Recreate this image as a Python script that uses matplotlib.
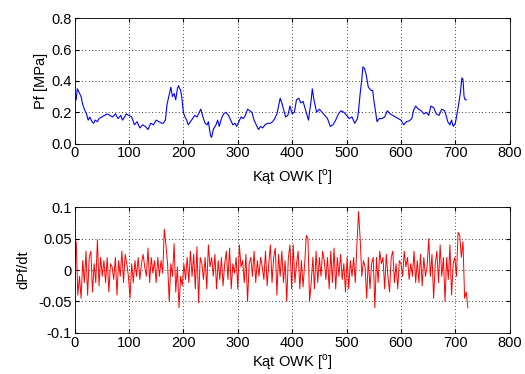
import numpy as np
import matplotlib.pyplot as plt

plt.rcParams['font.family'] = ['Liberation Sans', 'DejaVu Sans']
plt.rcParams['mathtext.fontset'] = 'custom'
plt.rcParams['mathtext.rm'] = 'Liberation Sans'

# cisnienie Pf [MPa]
kat_pf = [0, 3, 5, 8, 12, 15, 18, 22, 25, 28, 32, 35, 38, 42, 45, 50, 55, 60, 65, 70,
          75, 80, 85, 88, 92, 95, 100, 105, 110, 115, 120, 125, 130, 135, 140, 145, 150,
          155, 160, 163, 167, 170, 175, 177, 180, 183, 186, 189, 191, 195, 197, 200, 203,
          206, 209, 213, 217, 221, 225, 228, 232, 236, 240, 244, 246, 250, 252, 255, 260,
          263, 266, 270, 274, 278, 283, 287, 291, 295, 298, 302, 306, 310, 314, 318, 322,
          326, 330, 334, 338, 342, 346, 350, 355, 360, 364, 368, 372, 375, 378, 381, 384,
          388, 392, 396, 400, 404, 408, 412, 416, 420, 425, 430, 435, 437, 440, 445, 450,
          455, 460, 465, 470, 475, 480, 485, 490, 495, 500, 505, 510, 515, 520, 522, 525,
          528, 530, 533, 536, 540, 545, 548, 550, 553, 556, 560, 565, 570, 575, 580, 585,
          590, 595, 600, 605, 610, 615, 620, 623, 627, 632, 637, 642, 647, 651, 655, 660,
          665, 670, 675, 680, 683, 686, 690, 693, 696, 700, 703, 706, 709, 712, 714, 716,
          718, 720]
pf = [0.28, 0.28, 0.35, 0.33, 0.30, 0.25, 0.22, 0.19, 0.15, 0.17, 0.14, 0.13, 0.15, 0.14,
      0.16, 0.17, 0.18, 0.19, 0.18, 0.17, 0.19, 0.16, 0.18, 0.15, 0.17, 0.19, 0.18, 0.17,
      0.12, 0.14, 0.10, 0.12, 0.11, 0.09, 0.13, 0.12, 0.15, 0.14, 0.13, 0.13, 0.15, 0.25,
      0.33, 0.36, 0.30, 0.32, 0.28, 0.35, 0.37, 0.34, 0.30, 0.20, 0.17, 0.15, 0.12, 0.14,
      0.16, 0.18, 0.17, 0.19, 0.22, 0.17, 0.13, 0.12, 0.14, 0.05, 0.04, 0.09, 0.12, 0.15,
      0.11, 0.16, 0.19, 0.20, 0.18, 0.15, 0.12, 0.13, 0.11, 0.14, 0.17, 0.16, 0.18, 0.22,
      0.21, 0.20, 0.15, 0.12, 0.09, 0.11, 0.10, 0.12, 0.13, 0.13, 0.14, 0.16, 0.19, 0.24,
      0.29, 0.26, 0.22, 0.17, 0.18, 0.24, 0.19, 0.20, 0.28, 0.29, 0.26, 0.27, 0.21, 0.15,
      0.28, 0.35, 0.28, 0.20, 0.22, 0.20, 0.18, 0.16, 0.11, 0.12, 0.15, 0.19, 0.21, 0.20,
      0.18, 0.16, 0.17, 0.13, 0.16, 0.21, 0.32, 0.41, 0.49, 0.48, 0.44, 0.36, 0.34, 0.34,
      0.28, 0.21, 0.14, 0.16, 0.16, 0.17, 0.21, 0.19, 0.18, 0.17, 0.16, 0.15, 0.12, 0.14,
      0.145, 0.16, 0.21, 0.24, 0.22, 0.21, 0.19, 0.20, 0.18, 0.24, 0.23, 0.19, 0.18, 0.22,
      0.21, 0.18, 0.14, 0.12, 0.15, 0.11, 0.13, 0.19, 0.25, 0.32, 0.42, 0.41, 0.30, 0.28,
      0.28]

# pochodna dPf/dt co 3 stopnie
kat_dpf = np.arange(0, 724, 3)
dpf = [0.01, 0.045, -0.04, -0.01, -0.045, 0.015, -0.02, 0.03, -0.04, 0.02,
       0.03, -0.035, 0.01, -0.02, 0.048, -0.025, 0.02, -0.01, 0.015, -0.02,
       0.02, -0.035, 0.01, 0.005, -0.015, 0.02, -0.04, 0.015, -0.01, 0.03,
       -0.02, 0.025, 0.01, -0.01, -0.045, 0.01, -0.02, 0.015, -0.01, 0.02,
       -0.015, 0.01, 0.025, 0.005, -0.01, 0.035, -0.02, 0.02, -0.005, 0.015,
       -0.02, 0.02, -0.01, 0.015, -0.005, 0.065, 0.04, 0.01, -0.05, 0.01,
       -0.01, 0.042, -0.035, 0.005, -0.06, -0.01, -0.025, 0.01, -0.015, 0.02,
       -0.02, 0.03, -0.01, 0.025, -0.03, 0.037, -0.052, 0.02, 0.01, -0.015,
       0.02, -0.03, 0.04, 0.005, 0.02, -0.01, 0.025, -0.03, 0.015, -0.015,
       0.02, -0.025, 0.01, 0.03, -0.015, 0.035, -0.03, 0.01, -0.005, 0.02,
       -0.03, 0.04, 0.005, 0.015, -0.02, 0.025, -0.05, 0.01, 0.02, -0.01,
       0.03, -0.02, 0.015, -0.01, 0.02, 0.005, -0.015, 0.03, -0.025, 0.01,
       0.04, -0.02, 0.02, 0.035, -0.04, 0.025, -0.01, 0.03, -0.02, 0.015,
       -0.05, 0.02, 0.04, -0.03, 0.04, -0.02, 0.01, 0.03, -0.03, 0.015,
       -0.027, 0.01, 0.055, 0.05, -0.05, -0.02, 0.02, -0.03, 0.03, -0.02,
       0.02, -0.01, 0.03, 0.015, -0.015, 0.02, -0.03, 0.03, -0.02, 0.035,
       -0.03, 0.02, -0.01, 0.025, -0.015, 0.01, -0.035, 0.02, -0.03, 0.015,
       -0.01, 0.02, -0.02, 0.04, 0.093, 0.05, -0.01, 0.015, 0.005, -0.045,
       0.02, -0.03, 0.01, 0.02, -0.06, 0.02, -0.02, 0.03, 0.01, 0.02,
       -0.03, 0.025, -0.01, -0.035, 0.02, 0.03, -0.02, 0.01, -0.03, 0.015,
       0.01, -0.01, 0.03, 0.005, 0.02, -0.015, 0.01, -0.01, 0.03, -0.02,
       0.015, -0.02, 0.025, -0.025, 0.02, -0.01, 0.005, 0.05, -0.01, 0.025,
       -0.045, 0.01, 0.03, -0.02, 0.04, -0.01, 0.02, -0.05, 0.02, -0.015,
       0.04, -0.04, 0.01, 0.02, -0.01, 0.06, 0.055, 0.02, 0.045, -0.045,
       -0.035, -0.06]

fig = plt.figure(figsize=(5.25, 3.74), dpi=100)
ax1 = fig.add_axes([0.142, 0.616, 0.829, 0.335])
ax2 = fig.add_axes([0.142, 0.110, 0.829, 0.336])

ax1.plot(kat_pf, pf, color='blue', lw=0.8)
ax2.plot(kat_dpf, dpf, color='red', lw=0.7)

fs = 10.5
ax1.set_ylim(0, 0.8)
ax1.set_yticks([0, 0.2, 0.4, 0.6, 0.8])
ax1.set_ylabel('Pf [MPa]', fontsize=fs, labelpad=2)
ax2.set_ylim(-0.1, 0.1)
ax2.set_yticks([-0.1, -0.05, 0, 0.05, 0.1])
ax2.set_yticklabels(['-0.1', '-0.05', '0', '0.05', '0.1'])
ax2.set_ylabel('dPf/dt', fontsize=fs, labelpad=6)

for ax in (ax1, ax2):
    ax.set_xlim(0, 800)
    ax.set_xticks(range(0, 801, 100))
    ax.grid(True, linestyle=(0, (1, 3)), color='black', linewidth=0.6)
    ax.tick_params(direction='in', top=True, right=True, labelsize=fs, length=3, pad=2)
    for s in ax.spines.values():
        s.set_linewidth(0.6)

ax1.set_xlabel(r'Kąt OWK [$^\mathregular{o}$]', fontsize=fs, labelpad=5)
ax2.set_xlabel(r'Kąt OWK [$^\mathregular{o}$]', fontsize=fs, labelpad=2)

fig.savefig('out.png', dpi=100)
